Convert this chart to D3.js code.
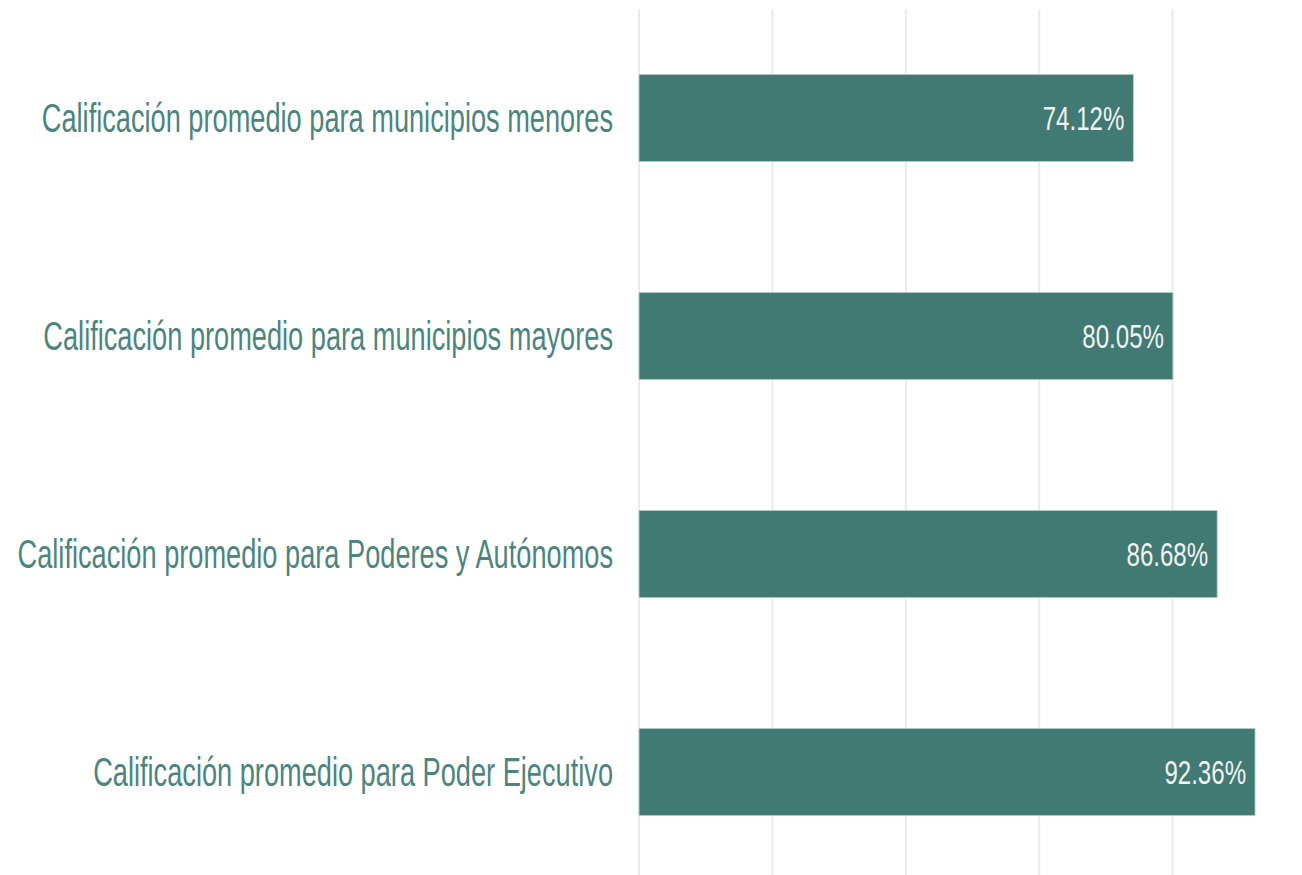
<!DOCTYPE html>
<html>
<head>
<meta charset="utf-8">
<script src="https://cdn.jsdelivr.net/npm/d3@7"></script>
<style>
  html, body { margin: 0; padding: 0; background: #fff; }
  svg { display: block; }
</style>
</head>
<body>
<svg id="chart" width="1302" height="875"></svg>
<script>
// categories top to bottom and their scores (%)
const categories = [
  "Calificación promedio para municipios menores",
  "Calificación promedio para municipios mayores",
  "Calificación promedio para Poderes y Autónomos",
  "Calificación promedio para Poder Ejecutivo"
];
const scores = [74.12, 80.05, 86.68, 92.36];
const gridTicks = [0, 20, 40, 60, 80, 100];

const width = 1302, height = 875;
const barColor = "#417a73";
const labelColor = "#4c857d";
const labelStretch = 0.68; // condensed look of the original font
const valueStretch = 0.73;

const svg = d3.select("#chart");

const x = d3.scaleLinear()
  .domain([0, 100])
  .range([639, 1306]);

const y = d3.scaleBand()
  .domain(categories)
  .range([9, 881])
  .paddingInner(0.6)
  .paddingOuter(0.3);

// vertical gridlines
svg.append("g")
  .selectAll("line")
  .data(gridTicks)
  .enter().append("line")
  .attr("x1", d => x(d))
  .attr("x2", d => x(d))
  .attr("y1", 9)
  .attr("y2", height)
  .attr("stroke", "#ebebeb")
  .attr("stroke-width", 2);

const rows = categories.map((c, i) => ({ name: c, value: scores[i] }));

svg.append("g")
  .selectAll("rect")
  .data(rows)
  .enter().append("rect")
  .attr("x", x(0))
  .attr("y", d => y(d.name))
  .attr("width", d => x(d.value) - x(0))
  .attr("height", y.bandwidth())
  .attr("fill", barColor)
  .attr("stroke", "#b9d0cc")
  .attr("stroke-width", 0.8);

// category labels
svg.append("g")
  .selectAll("text")
  .data(rows)
  .enter().append("text")
  .attr("transform", d => "translate(" + (x(0) - 26) + "," + (y(d.name) + y.bandwidth() / 2) + ") scale(" + labelStretch + ",1)")
  .attr("text-anchor", "end")
  .attr("dy", "0.35em")
  .style("font-family", "'Liberation Sans Narrow', 'Liberation Sans', sans-serif")
  .style("font-size", "40px")
  .style("fill", labelColor)
  .text(d => d.name);

// value labels inside bars
svg.append("g")
  .selectAll("text")
  .data(rows)
  .enter().append("text")
  .attr("transform", d => "translate(" + (x(d.value) - 9) + "," + (y(d.name) + y.bandwidth() / 2) + ") scale(" + valueStretch + ",1)")
  .attr("text-anchor", "end")
  .attr("dy", "0.35em")
  .style("font-family", "'Liberation Sans Narrow', 'Liberation Sans', sans-serif")
  .style("font-size", "33px")
  .style("fill", "#f2f2f2")
  .text(d => d.value.toFixed(2) + "%");
</script>
</body>
</html>
